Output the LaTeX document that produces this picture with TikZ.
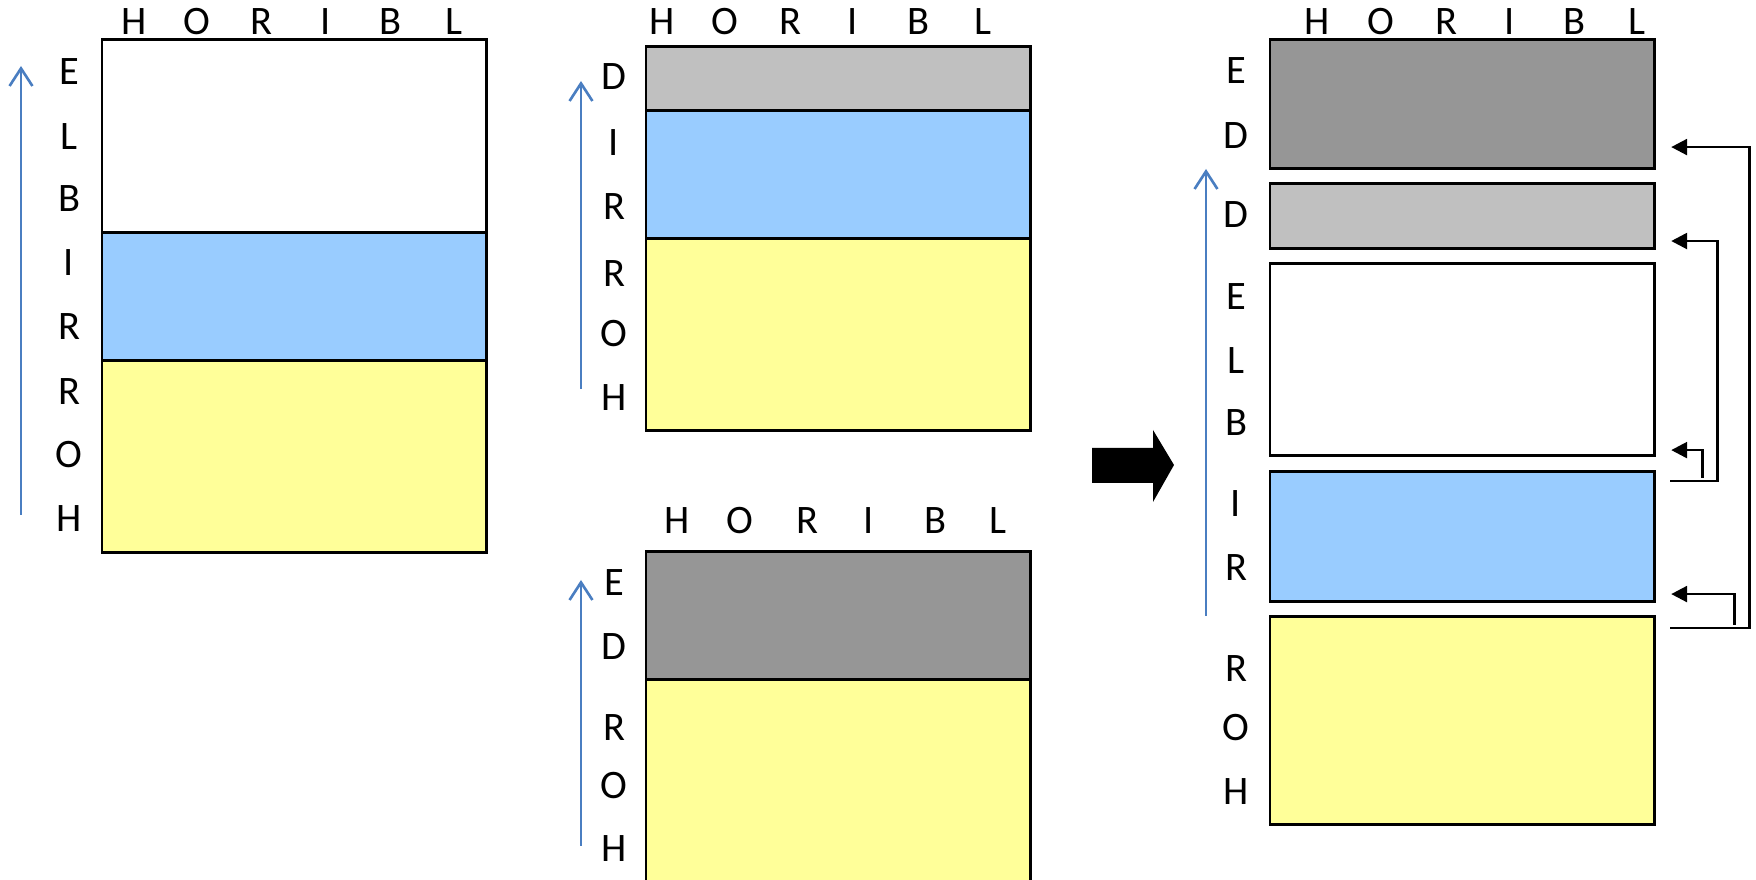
\documentclass[tikz,border=0pt]{standalone}
\usepackage{fontspec}
\setmainfont{Carlito}
\usetikzlibrary{arrows.meta,calc}
\definecolor{bandyellow}{RGB}{255,255,153}
\definecolor{bandblue}{RGB}{153,204,255}
\definecolor{bandlight}{RGB}{192,192,192}
\definecolor{banddark}{RGB}{150,150,150}
\definecolor{upblue}{RGB}{74,126,193}

\begin{document}
\begin{tikzpicture}[x=0.01cm,y=-0.01cm,
    band/.style={draw=black,line width=0.85pt,minimum width=3.84cm,inner sep=0pt,outer sep=0pt,anchor=north west},
    letter/.style={font=\fontsize{11.5}{13}\selectfont,inner sep=0pt},
    uparrow/.style={upblue,line width=0.75pt,-{Straight Barb[length=5pt,width=6.5pt]}},
    link/.style={line width=0.75pt,-{Triangle[length=4.5pt,width=4.5pt]}}]
    \useasboundingbox (0,0) rectangle (1756,880);
    % first stack
    \node[band,fill=white,minimum height=1.93cm] (w1) at (102,40) {};
    \node[band,fill=bandblue,minimum height=1.28cm] (b1) at (102,233) {};
    \node[band,fill=bandyellow,minimum height=1.91cm] (y1) at (102,361) {};
    \foreach \t/\x [count=\i] in {H/134,O/197,R/261,I/326,B/390,L/454}
    \node[letter] (ta\i) at (\x,22) {\t};
    \foreach \t/\y [count=\i] in {E/72,L/137,B/199,I/263,R/327,R/392,O/455,H/519}
    \node[letter] (la\i) at (69,\y) {\t};
    \coordinate (sa) at (21,515);
    \coordinate (ea) at (21,66);
    \draw[uparrow] (sa) -- (ea);
    % second stack
    \node[band,fill=bandlight,minimum height=0.64cm] (g2) at (646,47) {};
    \node[band,fill=bandblue,minimum height=1.28cm] (b2) at (646,111) {};
    \node[band,fill=bandyellow,minimum height=1.91cm] (y2) at (646,239) {};
    \foreach \t/\x [count=\i] in {H/662,O/725,R/790,I/853,B/918,L/983}
    \node[letter] (tb\i) at (\x,22) {\t};
    \foreach \t/\y [count=\i] in {D/77,I/143,R/207,R/274,O/334,H/398}
    \node[letter] (lb\i) at (614,\y) {\t};
    \coordinate (sb) at (581,389);
    \coordinate (eb) at (581,81);
    \draw[uparrow] (sb) -- (eb);
    % third stack
    \node[band,fill=banddark,minimum height=1.28cm] (d3) at (646,552) {};
    \node[band,fill=bandyellow,minimum height=2.4cm] (y3) at (646,680) {};
    \foreach \t/\x [count=\i] in {H/677,O/740,R/807,I/869,B/935,L/998}
    \node[letter] (tc\i) at (\x,521) {\t};
    \foreach \t/\y [count=\i] in {E/583,D/647,R/728,O/786,H/849}
    \node[letter] (lc\i) at (614,\y) {\t};
    \coordinate (sc) at (581,846);
    \coordinate (ec) at (581,580);
    \draw[uparrow] (sc) -- (ec);
    % big arrow
    \fill[black] (1092,448) -- (1153,448) -- (1153,430) -- (1174,465)
        -- (1153,502) -- (1153,483) -- (1092,483) -- cycle;
    % result stack
    \node[band,fill=banddark,minimum height=1.28cm] (d4) at (1270,40) {};
    \node[band,fill=bandlight,minimum height=0.64cm] (g4) at (1270,184) {};
    \node[band,fill=white,minimum height=1.91cm] (w4) at (1270,264) {};
    \node[band,fill=bandblue,minimum height=1.29cm] (b4) at (1270,472) {};
    \node[band,fill=bandyellow,minimum height=2.07cm] (y4) at (1270,617) {};
    \foreach \t/\x [count=\i] in {H/1317,O/1381,R/1446,I/1510,B/1574,L/1637}
    \node[letter] (td\i) at (\x,22) {\t};
    \foreach \t/\y [count=\i] in {E/71,D/136,D/215,E/297,L/361,B/423,I/504,R/568,R/669,O/728,H/792}
    \node[letter] (ld\i) at (1236,\y) {\t};
    \coordinate (sd) at (1206,616);
    \coordinate (ed) at (1206,169);
    \draw[uparrow] (sd) -- (ed);
    % moves
    \coordinate (o1) at ($(y4.north east)+(16,11)$);
    \coordinate (o2) at ($(b4.north east)+(16,9)$);
    \draw[link] (o1) -- ++(79,0) |- ($(d4.south east)+(17,-21)$);
    \draw[link] (o2) -- ++(47,0) |- ($(g4.south east)+(17,-7)$);
    \draw[link] ($(o2)+(32,-3)$) |- ($(w4.south east)+(17,-5)$);
    \draw[link] ($(o1)+(64,-3)$) |- ($(b4.south east)+(17,-7)$);
\end{tikzpicture}
\end{document}
